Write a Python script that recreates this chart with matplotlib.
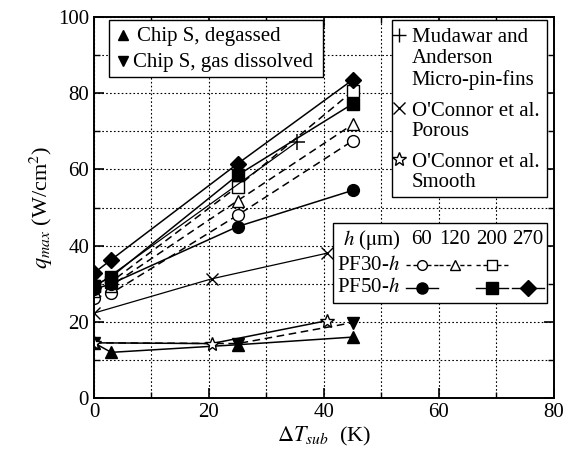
# q_max 与过冷度 ΔT_sub 的关系图（PF30 / PF50 微针翅 + 文献数据）
import matplotlib
matplotlib.use('Agg')
import matplotlib.pyplot as plt
from matplotlib.patches import Rectangle

plt.rcParams['font.family'] = ['Liberation Serif', 'DejaVu Serif']
plt.rcParams['mathtext.fontset'] = 'stix'

# ---- 数据 ----
dt_pf = [0, 3, 25, 45]
pf30_60 = [26.2, 27.5, 48.0, 67.5]
pf30_120 = [28.0, 29.5, 51.8, 71.8]
pf30_200 = [29.5, 30.5, 55.5, 80.5]
pf50_60 = [28.5, 30.0, 45.0, 54.5]
pf50_200 = [29.5, 31.8, 58.5, 77.2]
pf50_270 = [32.8, 36.3, 61.5, 83.5]

dt_degassed = [0, 3, 25, 45]
chip_degassed = [14.5, 12.0, 14.0, 16.0]
dt_dissolved = [0, 25, 45]
chip_dissolved = [14.5, 14.3, 19.8]

dt_mudawar = [0, 35.3]
q_mudawar = [29.0, 67.2]
dt_oconnor = [0, 20.5, 40.5]
q_porous = [22.3, 31.3, 38.0]
q_smooth = [14.5, 14.3, 20.3]

h_labels = ['60', '120', '200', '270']

fig = plt.figure(figsize=(5.8, 4.7), dpi=100)
ax = fig.add_axes([0.162, 0.153, 0.793, 0.811])

dash = (0, (5, 3))
ms = 8.5
k = 'black'

# PF30 虚线空心, PF50 实线实心
ax.plot(dt_pf, pf30_60, color=k, lw=1.1, ls=dash, marker='o', ms=ms, mfc='white', mec=k)
ax.plot(dt_pf, pf30_120, color=k, lw=1.1, ls=dash, marker='^', ms=ms, mfc='white', mec=k)
ax.plot(dt_pf, pf30_200, color=k, lw=1.1, ls=dash, marker='s', ms=ms, mfc='white', mec=k)
ax.plot(dt_pf, pf50_60, color=k, lw=1.1, marker='o', ms=ms, mfc=k, mec=k)
ax.plot(dt_pf, pf50_200, color=k, lw=1.1, marker='s', ms=ms, mfc=k, mec=k)
ax.plot(dt_pf, pf50_270, color=k, lw=1.1, marker='D', ms=ms, mfc=k, mec=k)

# Chip S
ax.plot(dt_degassed, chip_degassed, color=k, lw=1.1, marker='^', ms=ms, mfc=k, mec=k)
ax.plot(dt_dissolved, chip_dissolved, color=k, lw=1.1, ls=dash, marker='v', ms=ms, mfc=k, mec=k)

# 文献
ax.plot(dt_mudawar, q_mudawar, color=k, lw=0.9, marker='+', ms=12, mew=1.1)
ax.plot(dt_oconnor, q_porous, color=k, lw=0.9, marker='x', ms=9, mew=1.0)
ax.plot(dt_oconnor, q_smooth, color=k, lw=1.1, marker='*', ms=10, mfc='white', mec=k, mew=1.0)

ax.set_xlim(0, 80)
ax.set_ylim(0, 100)
ax.set_xticks([0, 20, 40, 60, 80])
ax.set_yticks([0, 20, 40, 60, 80, 100])
ax.set_xticks(range(10, 80, 20), minor=True)
ax.set_yticks(range(10, 100, 20), minor=True)
ax.grid(True, which='both', ls=(0, (1.5, 2)), color=k, lw=0.8)
ax.tick_params(which='both', direction='in', top=True, right=True, labelsize=15, colors=k)
ax.tick_params(which='major', length=7, width=1.2)
ax.tick_params(which='minor', length=4, width=1.0)
for s in ax.spines.values():
    s.set_linewidth(1.4)
ax.set_xlabel(r'$\Delta T_{sub}$  (K)', fontsize=16, labelpad=2)
ax.set_ylabel(r'$q_{max}$ (W/cm$^2$)', fontsize=16, labelpad=2)

# ---- 图例 1: Chip S ----
tr = ax.transAxes
ax.add_patch(Rectangle((0.033, 0.843), 0.465, 0.149, transform=tr, fill=True, fc='white',
                       ec=k, lw=1.0, zorder=5))
ax.plot([0.063], [0.953], transform=tr, marker='^', ms=7, color=k, ls='none', zorder=6)
ax.text(0.093, 0.948, 'Chip S, degassed', transform=tr, fontsize=15, va='center', zorder=6)
ax.plot([0.063], [0.885], transform=tr, marker='v', ms=7, color=k, ls='none', zorder=6)
ax.text(0.085, 0.880, 'Chip S, gas dissolved', transform=tr, fontsize=15, va='center', zorder=6)

# ---- 图例 2: 文献 ----
ax.add_patch(Rectangle((0.648, 0.528), 0.337, 0.464, transform=tr, fc='white',
                       ec=k, lw=1.0, zorder=5))
ref_entries = [('+', 'Mudawar and\nAnderson\nMicro-pin-fins', 0.953),
               ('x', "O'Connor et al.\nPorous", 0.761),
               ('*', "O'Connor et al.\nSmooth", 0.627)]
for mk, lab, yy in ref_entries:
    ax.plot([0.663], [yy], transform=tr, marker=mk, ms=10 if mk != 'x' else 8,
            mfc='white', mec=k, mew=1.0, ls='none', zorder=6)
    ax.text(0.691, yy + 0.017, lab, transform=tr, fontsize=15, va='top',
            linespacing=1.12, zorder=6)

# ---- 图例 3: h 与 PF30 / PF50 ----
ax.add_patch(Rectangle((0.52, 0.249), 0.465, 0.21, transform=tr, fc='white',
                       ec=k, lw=1.0, zorder=5))
ax.text(0.541, 0.415, r'$h$ ($\mathrm{\mu}$m)', transform=tr, fontsize=15, va='center', zorder=6)
hx = [0.713, 0.785, 0.865, 0.943]
for xx, lab in zip(hx, h_labels):
    ax.text(xx, 0.415, lab, transform=tr, fontsize=15, va='center', ha='center', zorder=6)
ax.text(0.528, 0.349, r'PF30-$h$', transform=tr, fontsize=15, va='center', zorder=6)
ax.text(0.528, 0.289, r'PF50-$h$', transform=tr, fontsize=15, va='center', zorder=6)
seg = 0.035
for xx, mk in zip(hx[:3], ['o', '^', 's']):
    ax.plot([xx - seg, xx + seg], [0.349, 0.349], transform=tr, color=k, lw=1.0,
            ls=(0, (3, 2)), zorder=6)
    ax.plot([xx], [0.349], transform=tr, marker=mk, ms=7, mfc='white', mec=k,
            ls='none', zorder=7)
for xx, mk in zip([hx[0], hx[2], hx[3]], ['o', 's', 'D']):
    ax.plot([xx - seg, xx + seg], [0.289, 0.289], transform=tr, color=k, lw=1.0, zorder=6)
    ax.plot([xx], [0.289], transform=tr, marker=mk, ms=8, mfc=k, mec=k,
            ls='none', zorder=7)

fig.savefig('out.png', dpi=100)
